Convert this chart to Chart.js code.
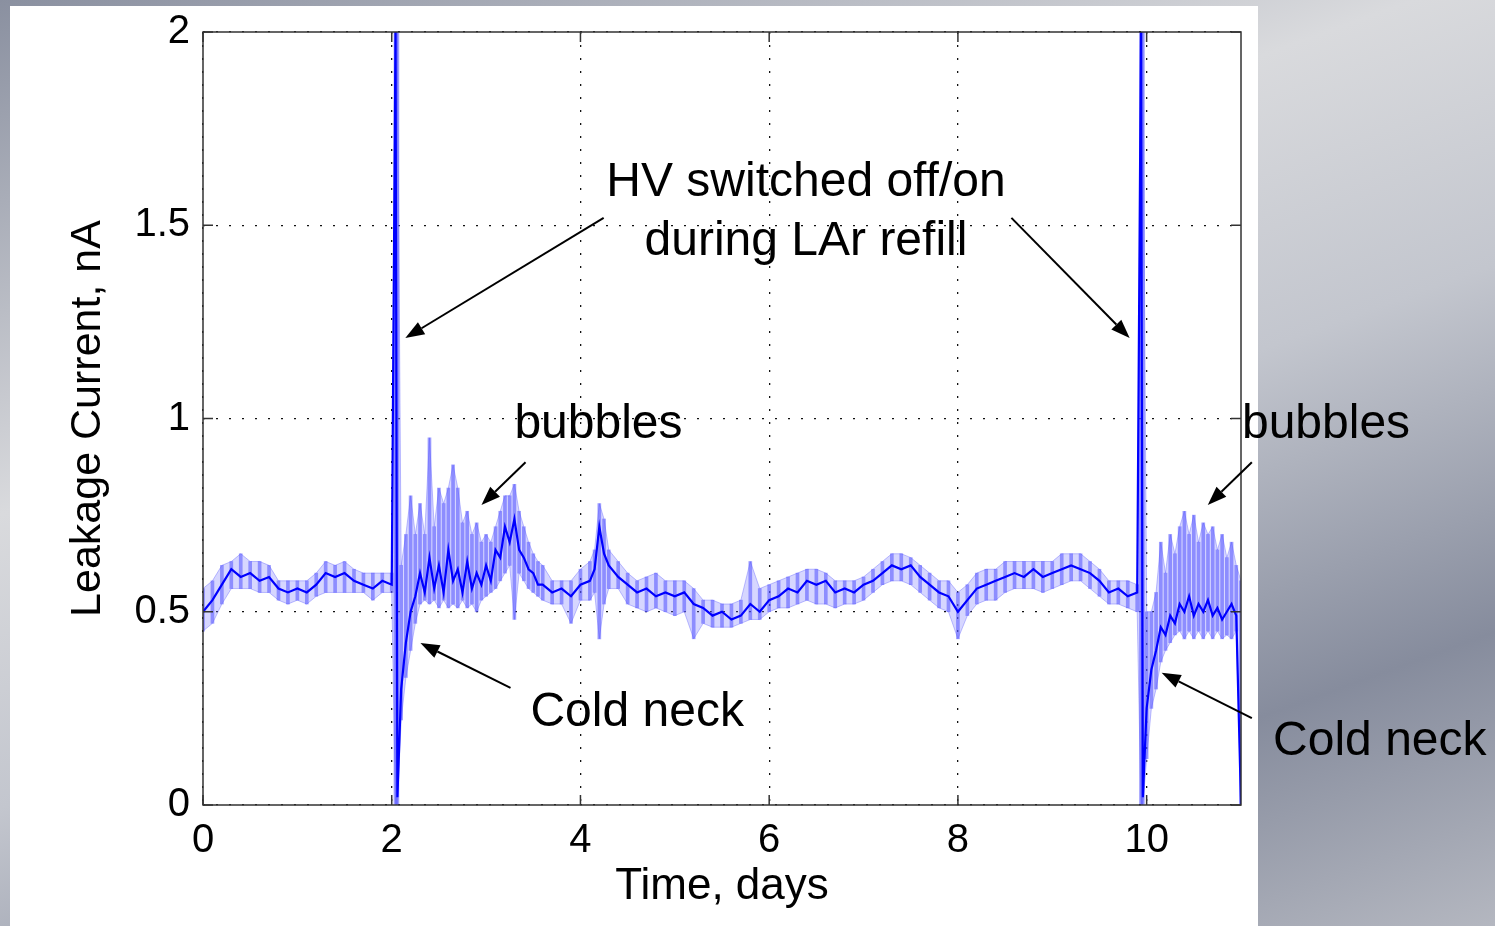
<!DOCTYPE html>
<html>
<head>
<meta charset="utf-8">
<script src="https://cdn.jsdelivr.net/npm/chart.js@4.4.1/dist/chart.umd.min.js"></script>
<style>
  html, body { margin: 0; padding: 0; width: 1495px; height: 926px; overflow: hidden; }
  body {
    background: linear-gradient(160deg, #8a90a0 0%, #d9dadd 35%, #c3c6ce 55%, #868c9d 80%, #b4b7c0 100%);
    position: relative;
  }
  #sheet { position: absolute; left: 10px; top: 6px; width: 1248px; height: 920px; background: #fff; }
  #myChart { position: absolute; left: 0; top: 0; }
</style>
</head>
<body>
<div id="sheet"></div>
<canvas id="myChart" width="1495" height="926"></canvas>
<script>
// time in days
var days = [
  0.0, 0.1, 0.2, 0.3, 0.4, 0.5, 0.6, 0.7, 0.8, 0.9, 1.0, 1.1, 1.2, 1.3, 1.4, 1.5, 1.6, 1.7, 1.8, 1.9, 2.0,
  2.04, 2.06, 2.1, 2.15, 2.2, 2.25, 2.3, 2.35, 2.4, 2.45, 2.5, 2.55, 2.6, 2.65, 2.7, 2.75, 2.8, 2.85, 2.9, 2.95,
  3.0, 3.05, 3.1, 3.15, 3.2, 3.25, 3.3, 3.35, 3.4, 3.45, 3.5, 3.55, 3.6,
  3.7, 3.8, 3.9, 4.0, 4.1, 4.15, 4.2, 4.25, 4.3, 4.4, 4.5, 4.6, 4.7, 4.8, 4.9, 5.0, 5.1, 5.2, 5.3, 5.4, 5.5,
  5.6, 5.7, 5.8, 5.9, 6.0, 6.1, 6.2, 6.3, 6.4, 6.5, 6.6, 6.7, 6.8, 6.9, 7.0, 7.1, 7.2, 7.3, 7.4, 7.5, 7.6,
  7.7, 7.8, 7.9, 8.0, 8.1, 8.2, 8.3, 8.4, 8.5, 8.6, 8.7, 8.8, 8.9, 9.0, 9.1, 9.2, 9.3, 9.4, 9.5, 9.6, 9.7,
  9.8, 9.9,
  9.94, 9.96, 10.0, 10.05, 10.1, 10.15, 10.2, 10.25, 10.3, 10.35, 10.4, 10.45, 10.5, 10.55, 10.6, 10.65,
  10.7, 10.75, 10.8, 10.85, 10.9, 10.95, 11.0
];
// lower edge of the noise band, nA
var lower = [
  .45, .47, .52, .56, .56, .56, .55, .55, .53, .52, .53, .52, .54, .55, .55, .55, .55, .55, .53, .55, .55,
  0, 0, .22, .33, .40, .47, .52, .53, .52, .53, .51, .53, .51, .52, .51, .53, .51, .52, .50, .53,
  .54, .55, .56, .58, .60, .62, .48, .60, .58, .56, .55, .54, .53,
  .52, .52, .47, .53, .53, .55, .43, .52, .56, .56, .52, .51, .50, .51, .50, .49, .50, .43, .47, .46, .46,
  .46, .47, .48, .48, .50, .51, .51, .52, .53, .52, .52, .51, .52, .52, .53, .55, .57, .58, .58, .57, .55,
  .53, .51, .50, .43, .49, .52, .53, .53, .55, .56, .56, .56, .55, .56, .57, .58, .58, .56, .54, .52, .52,
  .51, .50,
  0, 0, .12, .25, .30, .37, .40, .42, .44, .45, .43, .45, .43, .45, .43, .45,
  .43, .45, .43, .44, .43, .45, 0
];
// upper edge of the noise band, nA
var upper = [
  .56, .58, .62, .63, .65, .63, .63, .62, .58, .58, .58, .58, .60, .63, .62, .63, .61, .60, .60, .60, .60,
  2, 2, .62, .70, .80, .70, .78, .70, .95, .72, .82, .78, .82, .88, .82, .73, .76, .70, .73, .68,
  .70, .68, .72, .76, .80, .80, .83, .76, .72, .68, .65, .63, .62,
  .58, .58, .58, .61, .63, .66, .78, .74, .66, .63, .60, .58, .59, .60, .58, .58, .58, .56, .53, .53, .52,
  .52, .53, .63, .56, .57, .58, .59, .60, .61, .61, .60, .58, .58, .58, .59, .61, .63, .65, .65, .64, .62,
  .60, .58, .58, .55, .57, .60, .61, .61, .63, .63, .63, .63, .63, .63, .65, .65, .65, .63, .61, .58, .58,
  .58, .57,
  2, 2, .50, .50, .55, .68, .60, .70, .65, .72, .76, .70, .75, .68, .73, .70,
  .72, .66, .70, .64, .68, .62, .58
];
// leakage current (dense core of the trace), nA
var current = [
  .50, .53, .57, .61, .59, .60, .58, .59, .56, .55, .56, .55, .57, .60, .59, .60, .58, .57, .56, .58, .57,
  2, .02, .30, .42, .50, .54, .60, .55, .64, .56, .62, .55, .66, .58, .61, .55, .63, .56, .60, .57,
  .62, .58, .66, .64, .72, .68, .74, .66, .64, .61, .60, .57, .57,
  .55, .56, .54, .57, .58, .61, .72, .65, .62, .59, .57, .55, .56, .54, .55, .54, .55, .52, .51, .49, .50,
  .48, .49, .52, .50, .53, .54, .56, .55, .58, .57, .58, .55, .56, .55, .57, .58, .60, .62, .61, .62, .59,
  .57, .55, .54, .50, .53, .56, .57, .58, .59, .60, .59, .61, .59, .60, .61, .62, .61, .60, .58, .55, .56,
  .54, .55,
  2, .02, .25, .35, .40, .46, .44, .49, .47, .52, .50, .54, .49, .52, .50, .53,
  .49, .51, .48, .50, .52, .49, 0
];
var xTicks = [0, 2, 4, 6, 8, 10];
var yTicks = [0, 0.5, 1, 1.5, 2];

// annotations, in data units (day, nA)
var labels = [
  { text: "HV switched off/on", x: 6.39, y: 1.609, align: "center" },
  { text: "during LAr refill", x: 6.39, y: 1.457, align: "center" },
  { text: "bubbles", x: 3.30, y: 0.983, align: "left" },
  { text: "bubbles", x: 11.01, y: 0.983, align: "left" },
  { text: "Cold neck", x: 3.47, y: 0.238, align: "left" },
  { text: "Cold neck", x: 11.34, y: 0.163, align: "left" }
];
var arrows = [
  { from: [4.246, 1.519], to: [2.144, 1.208] },
  { from: [8.567, 1.519], to: [9.820, 1.208] },
  { from: [3.418, 0.887], to: [2.951, 0.776] },
  { from: [11.115, 0.887], to: [10.648, 0.776] },
  { from: [3.259, 0.303], to: [2.304, 0.419] },
  { from: [11.115, 0.225], to: [10.159, 0.342] }
];

var FONT = "Arial, 'Liberation Sans', sans-serif";

function drawArrow(ctx, x1, y1, x2, y2) {
  var ang = Math.atan2(y2 - y1, x2 - x1);
  var len = 19, half = 7;
  var bx = x2 - len * Math.cos(ang), by = y2 - len * Math.sin(ang);
  ctx.beginPath();
  ctx.moveTo(x1, y1);
  ctx.lineTo(bx, by);
  ctx.stroke();
  ctx.beginPath();
  ctx.moveTo(x2, y2);
  ctx.lineTo(bx + half * Math.sin(ang), by - half * Math.cos(ang));
  ctx.lineTo(bx - half * Math.sin(ang), by + half * Math.cos(ang));
  ctx.closePath();
  ctx.fill();
}

var matlabFrame = {
  id: "matlabFrame",
  afterDraw: function (chart) {
    var ctx = chart.ctx;
    var a = chart.chartArea;
    var xs = chart.scales.x, ys = chart.scales.y;
    ctx.save();
    ctx.strokeStyle = "#333";
    ctx.lineWidth = 1.5;
    ctx.strokeRect(a.left, a.top, a.right - a.left, a.bottom - a.top);
    // inward ticks like matlab
    ctx.beginPath();
    xTicks.forEach(function (v) {
      var p = xs.getPixelForValue(v);
      ctx.moveTo(p, a.bottom); ctx.lineTo(p, a.bottom - 10);
      ctx.moveTo(p, a.top); ctx.lineTo(p, a.top + 10);
    });
    yTicks.forEach(function (v) {
      var p = ys.getPixelForValue(v);
      ctx.moveTo(a.left, p); ctx.lineTo(a.left + 10, p);
      ctx.moveTo(a.right, p); ctx.lineTo(a.right - 10, p);
    });
    ctx.stroke();

    ctx.fillStyle = "#000";
    ctx.strokeStyle = "#000";
    ctx.lineWidth = 2;
    ctx.font = "48px " + FONT;
    ctx.textBaseline = "middle";
    labels.forEach(function (l) {
      ctx.textAlign = l.align;
      ctx.fillText(l.text, xs.getPixelForValue(l.x), ys.getPixelForValue(l.y));
    });
    arrows.forEach(function (r) {
      drawArrow(ctx,
        xs.getPixelForValue(r.from[0]), ys.getPixelForValue(r.from[1]),
        xs.getPixelForValue(r.to[0]), ys.getPixelForValue(r.to[1]));
    });
    ctx.restore();
  }
};

var ctx = document.getElementById("myChart");
new Chart(ctx, {
  type: "bar",
  data: {
    datasets: [
      {
        type: "line",
        data: days.map(function (d, i) { return { x: d, y: lower[i] }; }),
        borderColor: "rgba(110,110,255,0.45)",
        borderWidth: 1,
        pointRadius: 0,
        fill: false,
        order: 3,
        clip: 0
      },
      {
        type: "line",
        data: days.map(function (d, i) { return { x: d, y: upper[i] }; }),
        borderColor: "rgba(110,110,255,0.45)",
        borderWidth: 1,
        backgroundColor: "rgba(120,120,255,0.3)",
        pointRadius: 0,
        fill: 0,
        order: 2,
        clip: 0
      },
      {
        type: "bar",
        data: days.map(function (d, i) { return { x: d, y: [lower[i], upper[i]] }; }),
        backgroundColor: "rgba(80,80,255,0.55)",
        borderWidth: 0,
        barThickness: 3,
        grouped: false,
        order: 1
      },
      {
        type: "line",
        data: days.map(function (d, i) { return { x: d, y: current[i] }; }),
        borderColor: "#0000ff",
        borderWidth: 2.2,
        pointRadius: 0,
        fill: false,
        order: 0,
        clip: 0
      }
    ]
  },
  options: {
    responsive: false,
    animation: false,
    layout: { autoPadding: false, padding: { left: 0, top: 32, right: 254, bottom: 0 } },
    plugins: { legend: { display: false }, tooltip: { enabled: false } },
    scales: {
      x: {
        type: "linear",
        min: 0,
        max: 11,
        offset: false,
        afterBuildTicks: function (scale) {
          scale.ticks = xTicks.map(function (v) { return { value: v }; });
        },
        afterFit: function (scale) { scale.height = 121; },
        grid: { color: "#111", lineWidth: 1.3, drawTicks: false, offset: false },
        border: { display: false, dash: [2, 11] },
        ticks: { color: "#000", font: { family: FONT, size: 40 }, padding: 12, maxRotation: 0 },
        title: { display: true, text: "Time, days", color: "#000", font: { family: FONT, size: 44 }, padding: { top: 0, bottom: 13 } }
      },
      y: {
        min: 0,
        max: 2,
        afterBuildTicks: function (scale) {
          scale.ticks = yTicks.map(function (v) { return { value: v }; });
        },
        afterFit: function (scale) {
          scale.width = 203;
          scale.paddingTop = 0;
          scale.paddingBottom = 0;
        },
        grid: { color: "#111", lineWidth: 1.3, drawTicks: false },
        border: { display: false, dash: [2, 11] },
        ticks: {
          color: "#000", font: { family: FONT, size: 40, lineHeight: 0.5 }, padding: 13,
          callback: function (v) { return String(v); }
        },
        title: { display: true, text: "Leakage Current, nA", color: "#000", font: { family: FONT, size: 43 }, padding: { top: 62, bottom: 0 } }
      }
    }
  },
  plugins: [matlabFrame]
});
</script>
</body>
</html>
